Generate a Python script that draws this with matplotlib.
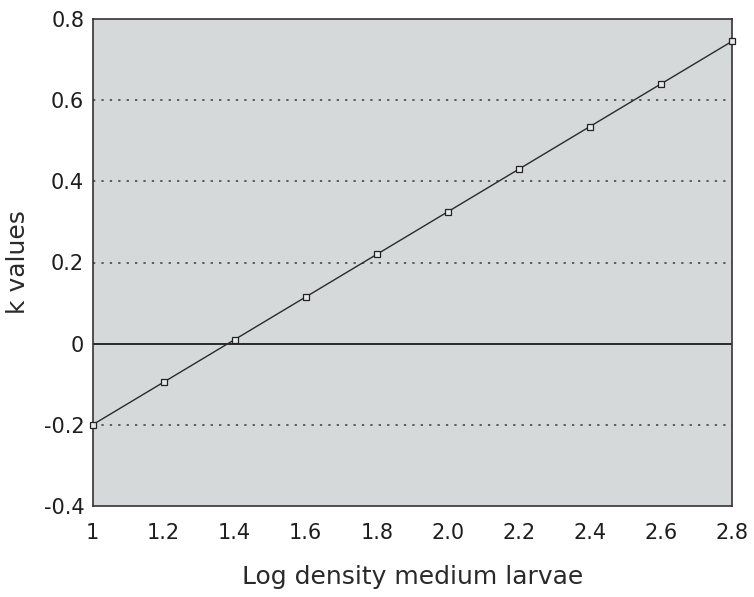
import matplotlib
matplotlib.use("Agg")
import matplotlib.pyplot as plt

log_density = [1.0, 1.2, 1.4, 1.6, 1.8, 2.0, 2.2, 2.4, 2.6, 2.8]
k_values = [-0.2, -0.095, 0.01, 0.115, 0.22, 0.325, 0.43, 0.535, 0.64, 0.745]
x_ticks = [1.0, 1.2, 1.4, 1.6, 1.8, 2.0, 2.2, 2.4, 2.6, 2.8]
x_tick_labels = ["1", "1.2", "1.4", "1.6", "1.8", "2.0", "2.2", "2.4", "2.6", "2.8"]
y_ticks = [-0.4, -0.2, 0, 0.2, 0.4, 0.6, 0.8]
y_tick_labels = ["-0.4", "-0.2", "0", "0.2", "0.4", "0.6", "0.8"]
dotted_levels = [-0.2, 0.2, 0.4, 0.6]

plt.rcParams['font.family'] = ['DejaVu Sans']

fig = plt.figure(figsize=(7.54, 5.97), dpi=100)
fig.patch.set_facecolor('white')
ax = fig.add_axes([92.5 / 754, (597 - 506) / 597, (732 - 92.5) / 754, (506 - 19) / 597])
ax.set_facecolor('#d6d9da')

for lv in dotted_levels:
    ax.axhline(lv, color='#3a3a3a', linestyle=(0, (1.5, 4)), linewidth=1.1, zorder=1)
ax.axhline(0, color='#2a2a2a', linewidth=1.4, zorder=1)

ax.plot(log_density, k_values, color='#2a2a2a', linewidth=1.0, marker='s',
        markersize=4.5, markerfacecolor='#e8e8e8', markeredgecolor='#222222',
        markeredgewidth=0.9, zorder=3, clip_on=False)

ax.set_xlim(1.0, 2.8)
ax.set_ylim(-0.4, 0.8)
ax.set_xticks(x_ticks)
ax.set_xticklabels(x_tick_labels)
ax.set_yticks(y_ticks)
ax.set_yticklabels(y_tick_labels)
ax.tick_params(axis='x', length=0, labelsize=15, colors='#1e1e1e', pad=12)
ax.tick_params(axis='y', length=0, labelsize=15, colors='#1e1e1e', pad=6)

for s in ax.spines.values():
    s.set_color('#333333')
    s.set_linewidth(1.2)

ax.set_xlabel("Log density medium larvae", fontsize=18, color='#2a2a2a', labelpad=16)
ax.set_ylabel("k values", fontsize=18, color='#2a2a2a', labelpad=10)

fig.savefig("out.png", dpi=100)
